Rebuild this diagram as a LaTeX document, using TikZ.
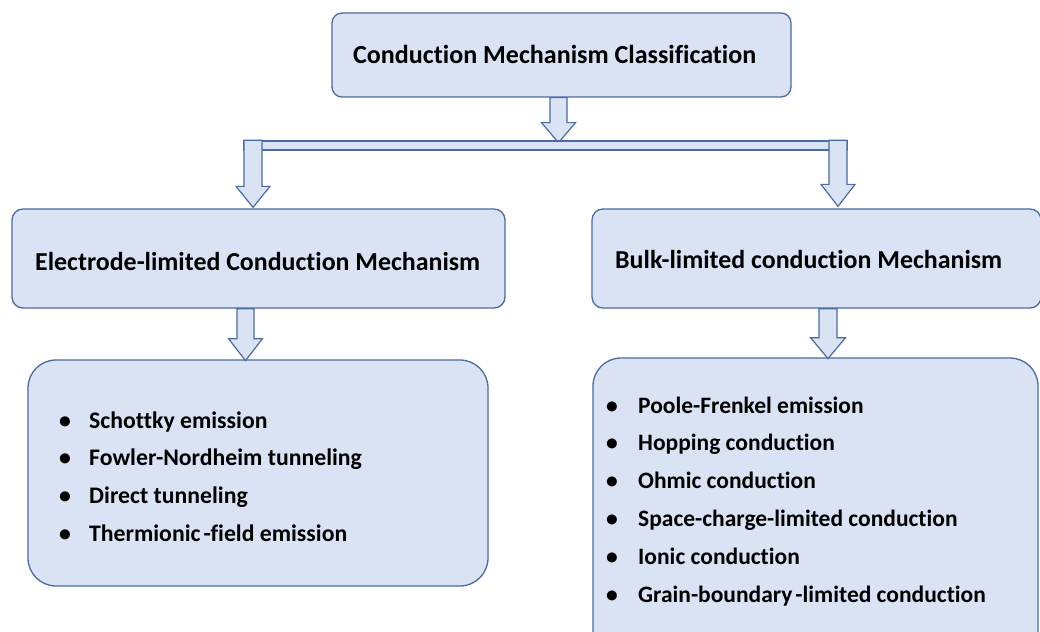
\documentclass[tikz,border=0pt]{standalone}
\usepackage{fontspec}
\setmainfont{Carlito}[Ligatures=NoCommon]
\usetikzlibrary{calc}
\definecolor{boxfill}{HTML}{DAE3F3}
\definecolor{boxline}{HTML}{4A6BA3}
\newlength\fitw
% #1 target width, #2 reference text for measuring, #3 text to set
\newcommand\fitsized[3]{\settowidth\fitw{\fontsize{10pt}{12pt}\bfseries\selectfont #2}%
  \pgfmathsetmacro\fitfs{10*#1/\fitw}%
  \pgfmathsetmacro\fitbs{1.2*\fitfs}%
  \fontsize{\fitfs pt}{\fitbs pt}\bfseries\selectfont #3}
\newcommand\bul[1]{\makebox[#1][l]{\textbullet}}
% block arrow pointing down: #1 start, #2 shaft length, #3 head length, #4 shaft half width, #5 head overhang
\newcommand\blockdown[5]{%
  \draw[blockarrow] (#1) ++(-#4,0) -- ++(0,#2) -- ++(-#5,0) -- ++(#4+#5,#3)
    -- ++(#4+#5,-#3) -- ++(-#5,0) -- ++(0,-#2) -- cycle;}
\tikzset{
  box/.style={draw=boxline, fill=boxfill, line width=1.3pt, rounded corners=#1, inner sep=0pt},
  box/.default=11pt,
  blockarrow/.style={draw=boxline, fill=boxfill, line width=1.2pt, line join=miter},
  txt/.style={inner sep=0pt, anchor=base west, text=black},
}
\begin{document}
\begin{tikzpicture}[x=1pt,y=-1pt]
\useasboundingbox (0,0) rectangle (1040,631);
\fill[white] (0,0) rectangle (1040,631);

% boxes
\node[box=10pt, minimum width=459pt, minimum height=84pt] (top) at (561.5,55) {};
\node[box, minimum width=493pt, minimum height=99pt] (elec) at (258.5,258.5) {};
\node[box, minimum width=449pt, minimum height=99pt] (bulk) at (816.5,258.5) {};
\node[box=28pt, minimum width=460pt, minimum height=226pt] (elist) at (258,473) {};
\node[box=28pt, minimum width=445pt, minimum height=304pt] (blist) at (815.5,510) {};

% connectors
\blockdown{$(top.south)+(-3,0)$}{25}{20}{8.5}{8.5}
\coordinate (barL) at (244,141);
\coordinate (barR) at (847,150);
\draw[blockarrow] (barL) rectangle (barR);
\blockdown{$(elec.north)+(-5.5,-68)$}{46}{21}{9}{8}
\blockdown{$(bulk.north)+(21.5,-68)$}{44}{22}{9}{8}
\blockdown{$(elec.south)+(-13,0)$}{30}{22}{8.5}{8.5}
\blockdown{$(bulk.south)+(11.5,0)$}{29}{21}{9}{8.5}

% texts
\node[txt] (toptext) at (353,64) {\fitsized{403}{Conduction Mechanism Classification}{Conduction Mechanism Classification}};
\node[txt] (electext) at (35,270.7) {\fitsized{445}{Electrode-limited Conduction Mechanism}{Electrode-limited Conduction Mechanism}};
\node[txt] (bulktext) at (615,268.3) {\fitsized{387}{Bulk-limited conduction Mechanism}{Bulk-limited conduction Mechanism}};

\foreach \t [count=\i from 0] in {Schottky emission, Fowler-Nordheim tunneling, Direct tunneling, Thermionic\hspace{3pt}-field emission}{
  \node[txt] (el\i) at (59,428+37.7*\i) {\fitsized{272.7}{Fowler-Nordheim tunneling}{\bul{30pt}\t}};
}
\foreach \t [count=\i from 0] in {Poole-Frenkel emission, Hopping conduction, Ohmic conduction, Space-charge-limited conduction, Ionic conduction, Grain-boundary\hspace{3pt}-limited conduction}{
  \node[txt] (bl\i) at (606,413+37.8*\i) {\fitsized{319.4}{Space-charge-limited conduction}{\bul{32pt}\t}};
}
\end{tikzpicture}
\end{document}
